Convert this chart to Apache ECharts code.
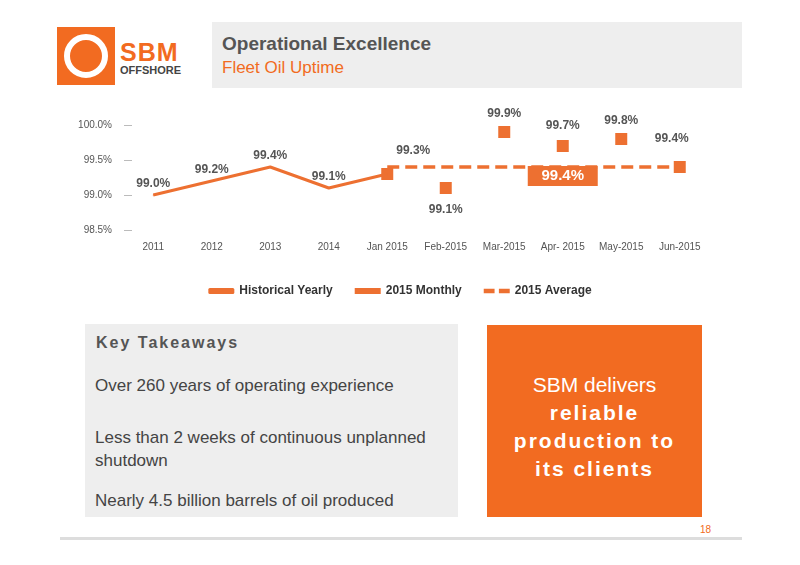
<!DOCTYPE html><html><head><meta charset="utf-8">
<script src="https://cdn.jsdelivr.net/npm/echarts@6/dist/echarts.min.js"></script>
<style>
body{margin:0;width:800px;height:565px;background:#fff;font-family:Arial,"Liberation Sans",sans-serif;position:relative;overflow:hidden}
.abs{position:absolute}
</style></head><body>
<div class="abs" style="left:57px;top:27px;width:58px;height:58px;background:#f26b21"></div>
<div class="abs" style="left:64px;top:34px;width:44px;height:44px;border-radius:50%;border:6px solid #fff;box-sizing:border-box"></div>
<div class="abs" style="left:120px;top:38px;font:bold 25px Arial;color:#f26b21;letter-spacing:1px">SBM</div>
<div class="abs" style="left:120px;top:64px;font:bold 11px Arial;color:#444">OFFSHORE</div>
<div class="abs" style="left:212px;top:22px;width:530px;height:66px;background:#eeeeee"></div>
<div class="abs" style="left:222px;top:33px;font:bold 19px Arial;color:#555">Operational Excellence</div>
<div class="abs" style="left:222px;top:58px;font:17px Arial;color:#f26b21">Fleet Oil Uptime</div>
<div id="c" class="abs" style="left:0;top:100px;width:800px;height:210px"></div>
<div class="abs" style="left:85px;top:324px;width:373px;height:193px;background:#eeeeee"></div>
<div class="abs" style="left:96px;top:334px;font:bold 16px Arial;color:#555;letter-spacing:2px">Key Takeaways</div>
<div class="abs" style="left:95px;top:376px;font:17px Arial;color:#444">Over 260 years of operating experience</div>
<div class="abs" style="left:95px;top:426px;font:17px Arial;color:#444;line-height:23px">Less than 2 weeks of continuous unplanned<br>shutdown</div>
<div class="abs" style="left:95px;top:491px;font:17px Arial;color:#444">Nearly 4.5 billion barrels of oil produced</div>
<div class="abs" style="left:487px;top:325px;width:215px;height:192px;background:#f26b21;color:#fff;text-align:center;font:21px Arial;line-height:28px">
<div style="margin-top:46px">SBM delivers</div><div style="font-weight:bold;letter-spacing:2px">reliable<br>production to<br>its clients</div></div>
<div class="abs" style="left:700px;top:524px;font:10px Arial;color:#f26b21">18</div>
<div class="abs" style="left:60px;top:537px;width:682px;height:3px;background:#ddd"></div>
<script>
const categories=['2011','2012','2013','2014','Jan 2015','Feb-2015','Mar-2015','Apr- 2015','May-2015','Jun-2015'];
const historical=[99.0,99.2,99.4,99.1,99.3,null,null,null,null,null];
const monthly=[null,null,null,null,99.3,99.1,99.9,99.7,99.8,99.4];
const average=[null,null,null,null,99.4,99.4,99.4,99.4,99.4,99.4];
const orange='#ed7031';
const fmt=p=>{const v=Array.isArray(p.value)?p.value[1]:p.value;return v==null?'':v.toFixed(1)+'%';};
const c=echarts.init(document.getElementById('c'));
c.setOption({
animation:false,
grid:{left:124,right:91,top:25,bottom:80},
xAxis:{type:'category',data:categories,axisLine:{show:false},axisTick:{show:false},axisLabel:{color:'#555',fontSize:10,margin:12}},
yAxis:{type:'value',min:98.5,max:100,interval:0.5,splitLine:{show:false},axisLine:{show:false},
 axisTick:{show:true,length:8,inside:true,lineStyle:{color:'#bbb'}},axisLabel:{color:'#555',fontSize:10,margin:12,formatter:v=>v.toFixed(1)+'%'}},
legend:{bottom:8,itemGap:22,textStyle:{color:'#333',fontWeight:'bold',fontSize:12},itemWidth:26,itemHeight:6,
 data:[{name:'Historical Yearly',icon:'roundRect'},{name:'2015 Monthly',icon:'rect',itemStyle:{opacity:1}},
 {name:'2015 Average',icon:'path://M0,0H10V4H0ZM14,0H24V4H14Z'}]},
series:[
{name:'Historical Yearly',type:'line',data:historical,symbol:'circle',symbolSize:1,showSymbol:true,lineStyle:{color:orange,width:3},itemStyle:{color:orange},
 label:{show:true,formatter:fmt,color:'#555',fontWeight:'bold',fontSize:12,position:'top',offset:[-26,-2]},
 labelLayout:p=>p.dataIndex===4?{dy:-12,dx:26}:{}},
{name:'2015 Average',type:'line',data:average,symbol:'none',lineStyle:{color:orange,width:3.5,type:[12,6]},itemStyle:{color:orange},
 markPoint:{symbol:'rect',symbolSize:[70,20],data:[{coord:['Apr- 2015',99.27]}],itemStyle:{color:orange},
 label:{show:true,formatter:'99.4%',color:'#fff',fontWeight:'bold',fontSize:15}}},
{name:'2015 Monthly',type:'scatter',data:monthly,symbol:'rect',symbolSize:12,itemStyle:{color:orange,opacity:1},
 label:{show:true,formatter:p=>(p.dataIndex===4?'':fmt(p)),color:'#555',fontWeight:'bold',fontSize:12,position:'top',distance:6},
 labelLayout:p=>p.dataIndex===5?{dy:40}:(p.dataIndex===9?{dy:-10,dx:-8}:(p.dataIndex===7?{dy:-2}:{}))}
]});
</script></body></html>
